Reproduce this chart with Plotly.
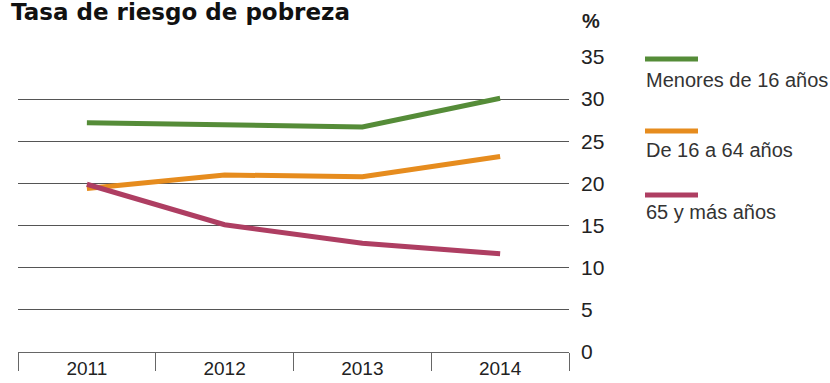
import plotly.graph_objects as go

# Poverty-risk rate by age group, percent
years = ["2011", "2012", "2013", "2014"]
series_names = ["Menores de 16 años", "De 16 a 64 años", "65 y más años"]
menores_16 = [27.2, 26.9, 26.7, 30.1]
de_16_a_64 = [19.4, 21.0, 20.8, 23.2]
mayores_65 = [19.9, 15.1, 12.9, 11.65]
series_values = [menores_16, de_16_a_64, mayores_65]
series_colors = ["#558c38", "#e68c1e", "#ae3e62"]
y_ticks = [0, 5, 10, 15, 20, 25, 30, 35]

W, H = 830, 383
L, R, T, B = 18, 261, 57, 31
plot_w = W - L - R
plot_h = H - T - B


def px_x(x):
    return (x - L) / plot_w


def px_y(y):
    return (H - B - y) / plot_h


fig = go.Figure()
for name, vals, col in zip(series_names, series_values, series_colors):
    fig.add_trace(go.Scatter(
        x=years, y=vals, mode="lines", name=name,
        line=dict(color=col, width=5), hoverinfo="skip",
    ))

# Legend drawn as a line swatch above each label
legend_rows = [(59, 80), (131, 150), (195, 212)]
for name, col, (ly, ty) in zip(series_names, series_colors, legend_rows):
    fig.add_shape(type="line", xref="paper", yref="paper",
                  x0=px_x(645), x1=px_x(698), y0=px_y(ly), y1=px_y(ly),
                  line=dict(color=col, width=5))
    fig.add_annotation(xref="paper", yref="paper", x=px_x(644), y=px_y(ty),
                       text=name, showarrow=False, xanchor="left", yanchor="middle",
                       font=dict(family="Liberation Sans", size=20, color="#333"))

# Unit label above the value axis
fig.add_annotation(xref="paper", yref="paper", x=px_x(591), y=px_y(21),
                   text="<b>%</b>", showarrow=False, xanchor="center", yanchor="middle",
                   font=dict(family="Liberation Sans", size=20, color="#222"))

fig.update_layout(
    width=W, height=H,
    margin=dict(l=L, r=R, t=T, b=B, pad=0),
    paper_bgcolor="white", plot_bgcolor="white",
    showlegend=False,
    title=dict(text="Tasa de riesgo de pobreza", xref="container", yref="container",
               x=11 / W, xanchor="left", y=1 - 4 / H, yanchor="top",
               font=dict(family="DejaVu Sans", size=23, color="#111", weight="bold")),
    xaxis=dict(
        type="category", range=[-0.5, 3.5], tickson="boundaries", automargin=False,
        ticks="outside", ticklen=18, tickwidth=1, tickcolor="#666",
        showline=True, linecolor="#666", linewidth=1, showgrid=False,
        tickfont=dict(family="Liberation Sans", size=19, color="#222"),
        ticklabelstandoff=-1,
    ),
    yaxis=dict(
        side="right", range=[0, 35], tickvals=y_ticks, showgrid=True, automargin=False,
        gridcolor="#555", gridwidth=1, zeroline=False, showline=False,
        ticks="", ticklabelstandoff=11,
        tickfont=dict(family="Liberation Sans", size=21, color="#222"),
    ),
)

fig.write_html("out.html")
